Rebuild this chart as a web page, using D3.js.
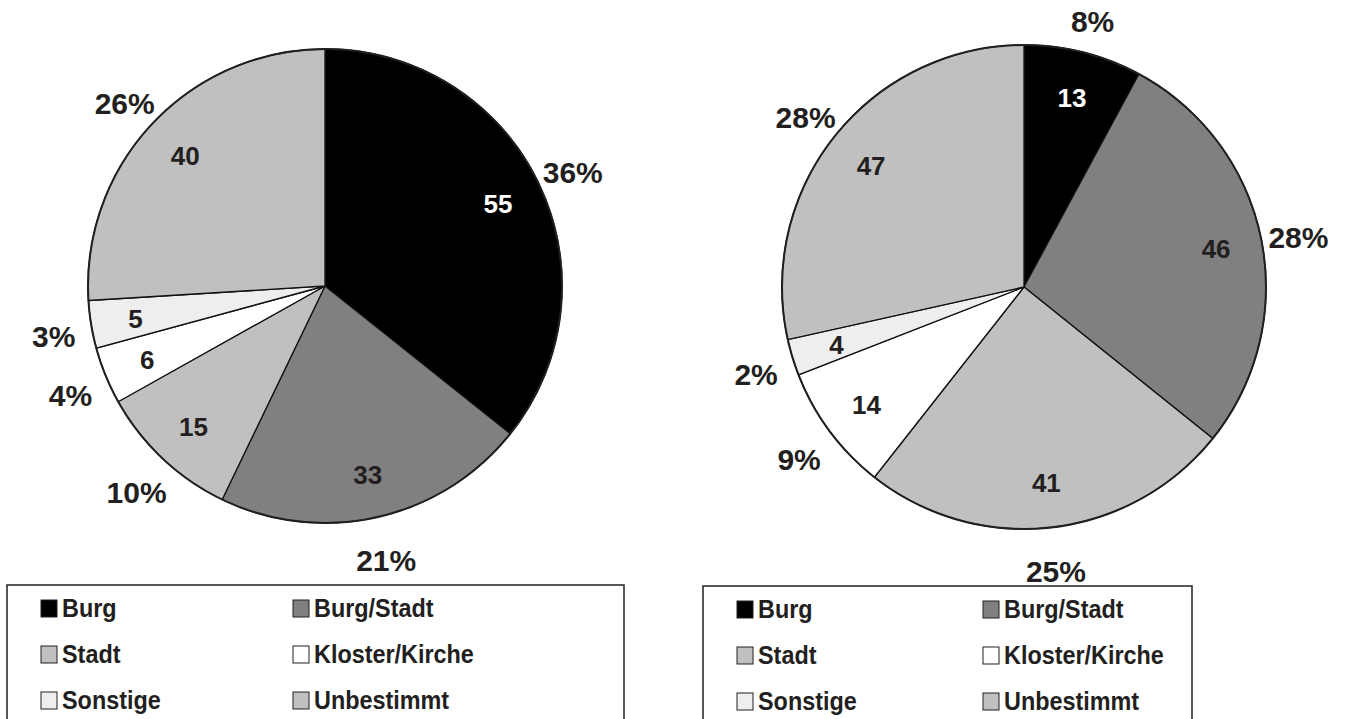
<!DOCTYPE html>
<html>
<head>
<meta charset="utf-8">
<script src="https://cdn.jsdelivr.net/npm/d3@7"></script>
<style>
  body { margin: 0; background: #fff; }
  text { font-family: "Liberation Sans", Arial, sans-serif; font-weight: bold; fill: #231f20; }
</style>
</head>
<body>
<div id="chart"></div>
<script>
// data
const categories = ['Burg', 'Burg/Stadt', 'Stadt', 'Kloster/Kirche', 'Sonstige', 'Unbestimmt'];
const colors = ['#000000', '#808080', '#c0c0c0', '#ffffff', '#eeeeee', '#c0c0c0'];

const valuesLeft = [55, 33, 15, 6, 5, 40];
const percentLeft = ['36%', '21%', '10%', '4%', '3%', '26%'];

const valuesRight = [13, 46, 41, 14, 4, 47];
const percentRight = ['8%', '28%', '25%', '9%', '2%', '28%'];

let width = 1347, height = 719;

let svg = d3.select('#chart')
    .append('svg')
    .attr('width', width)
    .attr('height', height);

// layout of each panel
let panels = [
    { values: valuesLeft, pct: percentLeft, cx: 325, cy: 286, r: 237, legX: 7, legW: 617, legY: 585, col2: 252 },
    { values: valuesRight, pct: percentRight, cx: 1024, cy: 287, r: 242, legX: 703, legW: 489, legY: 586, col2: 246 }
];

panels.forEach(p => drawPanel(p));

function drawPanel(p) {
    let pie = d3.pie().sort(null).value(d => d.value);
    let data = pie(categories.map((c, i) => ({ key: c, value: p.values[i], pct: p.pct[i], color: colors[i] })));

    let g = svg.append('g')
        .attr('transform', `translate(${p.cx}, ${p.cy})`);

    let arc = d3.arc().innerRadius(0).outerRadius(p.r);
    let inner = d3.arc().innerRadius(p.r * 0.81).outerRadius(p.r * 0.81);
    let outer = d3.arc().innerRadius(p.r + 38).outerRadius(p.r + 38);

    g.selectAll('.slice')
        .data(data)
        .join('path')
        .attr('class', 'slice')
        .attr('d', arc)
        .attr('fill', d => d.data.color)
        .attr('stroke', '#111')
        .attr('stroke-width', 1.3);

    // outer rim a bit heavier
    g.append('circle')
        .attr('r', p.r)
        .attr('fill', 'none')
        .attr('stroke', '#231f20')
        .attr('stroke-width', 2);

    g.selectAll('.val')
        .data(data)
        .join('text')
        .attr('class', 'val')
        .attr('transform', d => `translate(${inner.centroid(d)})`)
        .attr('text-anchor', 'middle')
        .attr('dy', '0.4em')
        .style('font-size', '26px')
        .style('fill', d => d.data.color === '#000000' ? '#fff' : '#231f20')
        .text(d => d.data.value);

    g.selectAll('.pct')
        .data(data)
        .join('text')
        .attr('class', 'pct')
        .attr('transform', d => `translate(${outer.centroid(d)})`)
        .attr('text-anchor', 'middle')
        .attr('dy', '0.55em')
        .style('font-size', '30px')
        .text(d => d.data.pct);

    // legend box (bottom edge runs off the page)
    let leg = svg.append('g')
        .attr('transform', `translate(${p.legX}, ${p.legY})`);

    leg.append('rect')
        .attr('width', p.legW)
        .attr('height', 200)
        .attr('fill', 'none')
        .attr('stroke', '#231f20')
        .attr('stroke-width', 1.5);

    let item = leg.selectAll('.item')
        .data(categories)
        .join('g')
        .attr('class', 'item')
        .attr('transform', (d, i) => `translate(${34 + (i % 2) * p.col2}, ${23 + Math.floor(i / 2) * 46})`);

    item.append('rect')
        .attr('y', -8)
        .attr('width', 16)
        .attr('height', 17)
        .attr('fill', (d, i) => colors[i])
        .attr('stroke', '#231f20')
        .attr('stroke-width', 1);

    // the legend font is a little condensed
    item.append('text')
        .attr('transform', 'translate(21, 0) scale(0.9, 1)')
        .attr('dy', '0.36em')
        .style('font-size', '26px')
        .text(d => d);
}
</script>
</body>
</html>
